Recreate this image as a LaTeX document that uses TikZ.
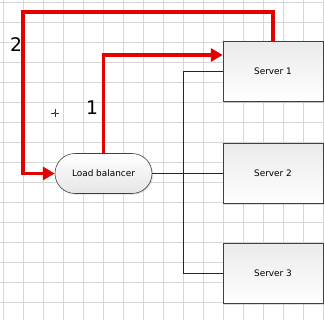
\documentclass[tikz,border=0pt]{standalone}
\usepackage{fontspec}
\setsansfont{DejaVu Sans}
\usetikzlibrary{arrows.meta,shadows}
\begin{document}
\begin{tikzpicture}[line join=miter,x=.03cm,y=-.03cm,
    server/.style={draw=black!75,line width=.5pt,minimum width=3cm,minimum height=1.79cm,
        top color=black!8,bottom color=white,drop shadow={shadow xshift=1pt,shadow yshift=-1pt,opacity=.25},
        font=\sffamily\fontsize{7.6}{9}\selectfont},
    balancer/.style={server,minimum width=2.91cm,minimum height=1.2cm,rounded corners=.6cm,
        top color=white,bottom color=black!10},
    route/.style={red!90!black,line width=2.6pt,-{Triangle[length=10pt,width=11pt]}},
    wire/.style={black!85,line width=.6pt},
    step no/.style={font=\sffamily\fontsize{16}{18}\selectfont}]
    \useasboundingbox (0,0) rectangle (324,320);
    % grid
    \foreach \x in {3,23,...,323}
    \draw[black!16,line width=.4pt] (\x,0)--(\x,320);
    \foreach \y in {2,22,...,302}
    \draw[black!16,line width=.4pt] (0,\y)--(324,\y);
    % marker
    \draw[black!80,line width=.4pt] (51,113)--(59,113) (55,109)--(55,117);
    \draw[black!80,fill=white,line width=.4pt] (55,113) circle (.7pt);
    % nodes
    \node[balancer] (lb) at (103.5,173.5) {Load balancer};
    \node[server] (srvA) at (273,71.5) {Server 1};
    \node[server] (srvB) at (273,173.5) {Server 2};
    \node[server] (srvC) at (273,273.5) {Server 3};
    \node[step no] (two) at (16,45) {2};
    \node[step no] (one) at (92,108) {1};
    % wires
    \coordinate (bus) at (183.5,71.5);
    \draw[wire] (lb.east)--(srvB.west);
    \draw[wire] (srvA.west)--(bus)|-(srvC.west);
    % routes
    \coordinate (back) at (23,12);
    \coordinate (fwd) at (103.5,55);
    \draw[route] (srvA.north)|-(back)|-(lb.west);
    \draw[route] (lb.north)--(fwd)--(fwd-|srvA.west);
\end{tikzpicture}
\end{document}
